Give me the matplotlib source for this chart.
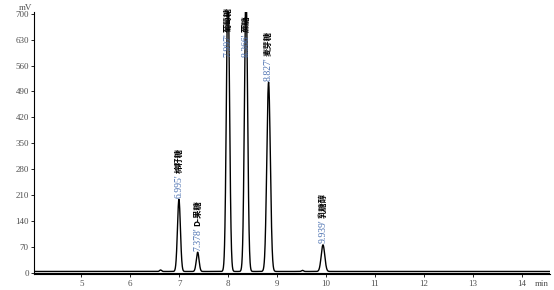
import numpy as np
import matplotlib
matplotlib.use('Agg')
import matplotlib.pyplot as plt

# dados dos picos (tempo de retenção, altura, largura)
rt = [6.995, 7.378, 7.997, 8.366, 8.827, 9.939]
heights = [195, 52, 780, 760, 512, 72]
widths = [0.030, 0.028, 0.032, 0.032, 0.036, 0.036]
names = ['棉籽糖', 'D-果糖', '葡萄糖', '蔗糖', '麦芽糖', '乳糖醇']
bumps_t = [6.62, 9.52]
bumps_h = [4, 3]
baseline = 3
xticks = [5, 6, 7, 8, 9, 10, 11, 12, 13, 14]
yticks = [0, 70, 140, 210, 280, 350, 420, 490, 560, 630, 700]

t = np.linspace(4.04, 14.6, 4000)
signal = np.full_like(t, baseline, dtype=float)
for c, h, w in zip(rt, heights, widths):
    signal += h * np.exp(-0.5 * ((t - c) / w) ** 2)
for c, h in zip(bumps_t, bumps_h):
    signal += h * np.exp(-0.5 * ((t - c) / 0.02) ** 2)

fig = plt.figure(figsize=(5.54, 2.9), dpi=100)
ax = fig.add_axes([0.062, 0.055, 0.93, 0.905])
ax.plot(t, signal, color='black', linewidth=1.0)
ax.axhline(0, color='black', linewidth=0.8)

ax.set_xlim(4.04, 14.57)
ax.set_ylim(-4, 706)
ax.set_xticks(xticks)
ax.set_yticks(yticks)
ax.tick_params(labelsize=6.5, length=2, width=0.6, pad=2, colors='black')
for lab in ax.get_xticklabels() + ax.get_yticklabels():
    lab.set_family('Liberation Serif')
    lab.set_color('#505050')
for s in ['top', 'right']:
    ax.spines[s].set_visible(False)
for s in ['left', 'bottom']:
    ax.spines[s].set_linewidth(0.8)

ax.text(-0.005, 1.0, 'mV', transform=ax.transAxes, ha='right', va='bottom',
        fontsize=6.5, family='Liberation Serif', color='#505050')
ax.annotate('min', (1.0, 0.0), xycoords='axes fraction', xytext=(-1, -7),
            textcoords='offset points', ha='right', va='center',
            fontsize=6.5, family='Liberation Serif', color='#505050')

# rótulos dos picos
for c, h, n in zip(rt, heights, names):
    y = min(h, 575)
    ax.annotate(f"{c:.3f}'", (c, y), xytext=(0, 2), textcoords='offset points',
                rotation=90, ha='center', va='bottom', fontsize=7,
                family='Liberation Serif', color='#4a70b0')
    ax.annotate(n, (c, y), xytext=(0, 20), textcoords='offset points',
                rotation=90, ha='center', va='bottom', fontsize=6,
                family=['Noto Sans CJK SC', 'DejaVu Sans'], fontweight='bold',
                color='black')

fig.savefig('out.png', dpi=100)
